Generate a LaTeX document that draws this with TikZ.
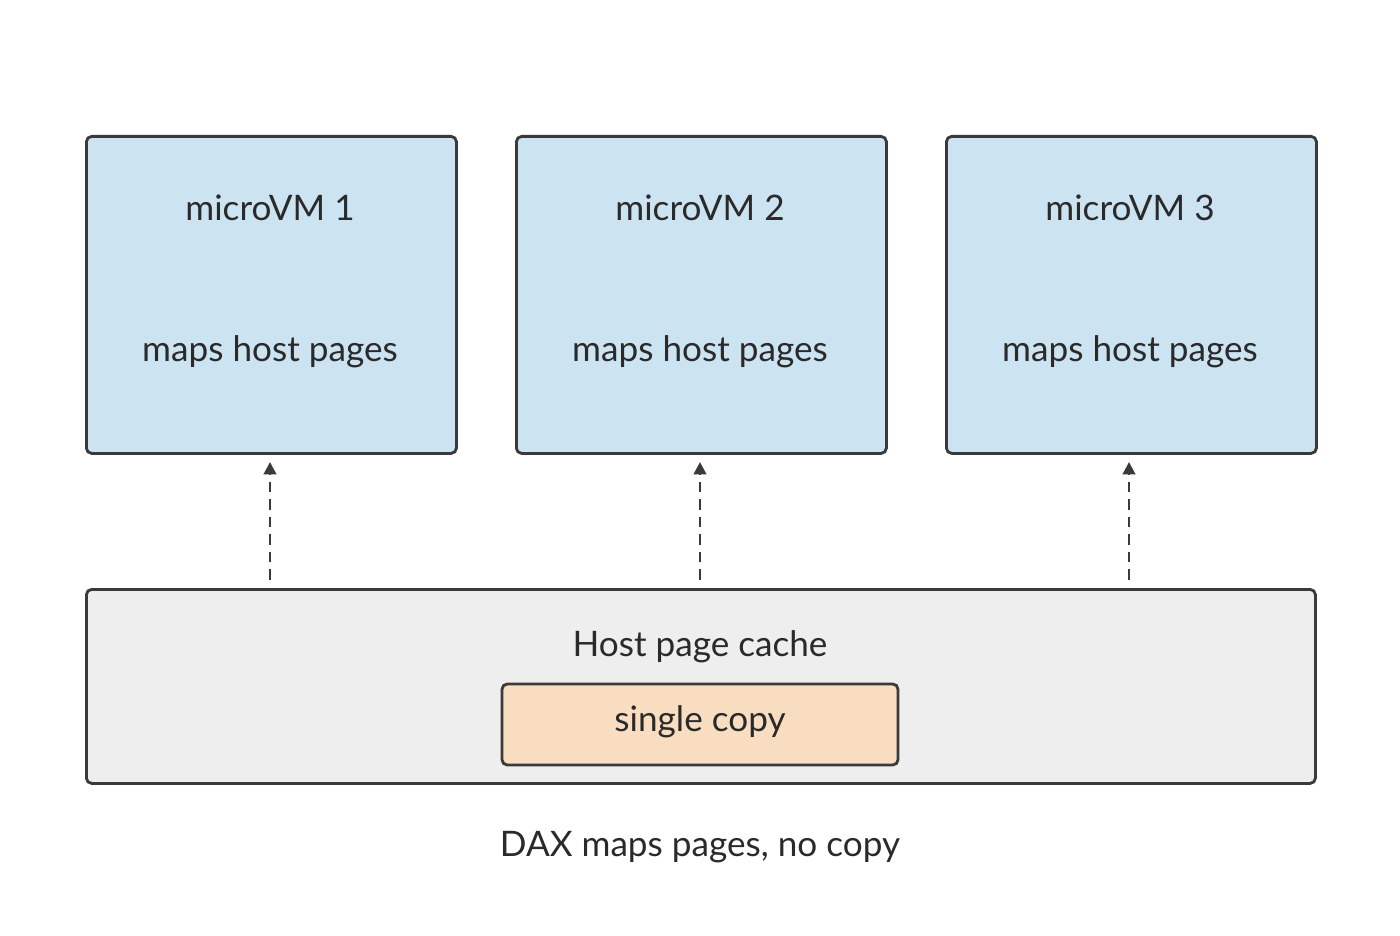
\documentclass[tikz,border=0pt]{standalone}
\usepackage{fontspec}
\setmainfont{Lato}
\usetikzlibrary{arrows.meta}
\definecolor{vmblue}{HTML}{CCE3F2}
\definecolor{hostgray}{HTML}{EEEEEE}
\definecolor{copyor}{HTML}{F8DDC0}
\definecolor{edge}{HTML}{3A3A3A}
\definecolor{txt}{HTML}{2A2A2A}
\begin{document}
\begin{tikzpicture}[x=0.02cm,y=-0.02cm,
  box/.style={draw=edge,line width=1.6pt,rounded corners=3pt,inner sep=0pt},
  lbl/.style={text=txt,font=\fontsize{20}{24}\selectfont},
  arr/.style={draw=edge,line width=1.6pt,dash pattern=on 6pt off 4pt,-{Triangle[length=7pt,width=7pt]}}]
\useasboundingbox (0,0) rectangle (1400,936);
\foreach \i/\x in {1/85,2/515,3/945}{
  \node[box,fill=vmblue,minimum width=370*0.02cm,minimum height=317*0.02cm,anchor=north west] (vm\i) at (\x,135) {};
  \node[lbl] (t\i) at (\x+185,208) {microVM \i};
  \node[lbl] (m\i) at (\x+185,352) {maps host pages};
}
\node[box,fill=hostgray,minimum width=1229*0.02cm,minimum height=194*0.02cm,anchor=north west] (host) at (85,588) {};
\node[lbl] (hl) at (700,647) {Host page cache};
\node[box,fill=copyor,minimum width=396*0.02cm,minimum height=81*0.02cm] (copy) at (700,724.5) {};
\node[lbl] (cl) at (700,722) {single copy};
\node[lbl] (cap) at (700,847) {DAX maps pages, no copy};
\foreach \i/\x in {1/270,2/700,3/1129}{
  \coordinate (s\i) at (\x,580);
  \draw[arr] (s\i) -- (\x,462);
}
\end{tikzpicture}
\end{document}
